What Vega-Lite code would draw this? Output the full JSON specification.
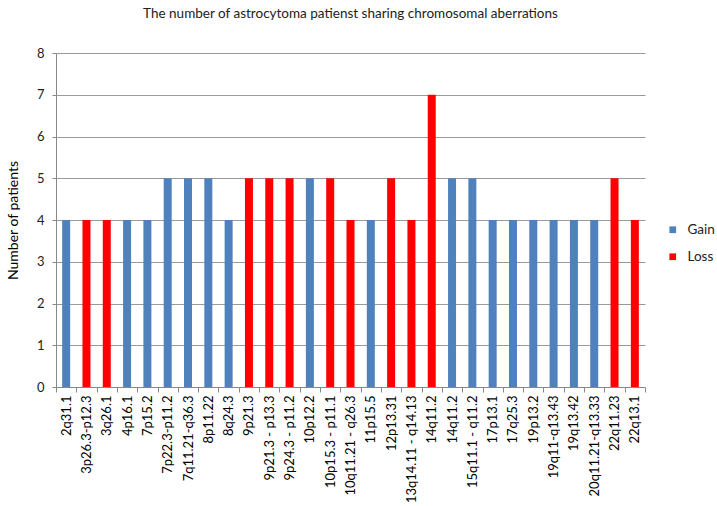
{
  "$schema": "https://vega.github.io/schema/vega-lite/v6.json",
  "width": 589,
  "height": 334,
  "padding": {"left": 6, "top": 6, "right": 5, "bottom": 3},
  "background": "white",
  "title": {
    "text": "The number of astrocytoma  patienst sharing chromosomal aberrations",
    "font": "Lato",
    "fontSize": 13.5,
    "fontWeight": "normal",
    "color": "#222222",
    "anchor": "middle",
    "offset": 27
  },
  "config": {
    "view": {"stroke": null},
    "font": "Lato"
  },
  "data": {
    "values": [
      {"region": "2q31.1", "type": "Gain", "patients": 4},
      {"region": "3p26.3-p12.3", "type": "Loss", "patients": 4},
      {"region": "3q26.1", "type": "Loss", "patients": 4},
      {"region": "4p16.1", "type": "Gain", "patients": 4},
      {"region": "7p15.2", "type": "Gain", "patients": 4},
      {"region": "7p22.3-p11.2", "type": "Gain", "patients": 5},
      {"region": "7q11.21-q36.3", "type": "Gain", "patients": 5},
      {"region": "8p11.22", "type": "Gain", "patients": 5},
      {"region": "8q24.3", "type": "Gain", "patients": 4},
      {"region": "9p21.3", "type": "Loss", "patients": 5},
      {"region": "9p21.3 - p13.3", "type": "Loss", "patients": 5},
      {"region": "9p24.3 - p11.2", "type": "Loss", "patients": 5},
      {"region": "10p12.2", "type": "Gain", "patients": 5},
      {"region": "10p15.3 - p11.1", "type": "Loss", "patients": 5},
      {"region": "10q11.21 - q26.3", "type": "Loss", "patients": 4},
      {"region": "11p15.5", "type": "Gain", "patients": 4},
      {"region": "12p13.31", "type": "Loss", "patients": 5},
      {"region": "13q14.11 - q14.13", "type": "Loss", "patients": 4},
      {"region": "14q11.2", "type": "Loss", "patients": 7},
      {"region": "14q11.2 ", "type": "Gain", "patients": 5},
      {"region": "15q11.1 - q11.2", "type": "Gain", "patients": 5},
      {"region": "17p13.1", "type": "Gain", "patients": 4},
      {"region": "17q25.3", "type": "Gain", "patients": 4},
      {"region": "19p13.2", "type": "Gain", "patients": 4},
      {"region": "19q11-q13.43", "type": "Gain", "patients": 4},
      {"region": "19q13.42", "type": "Gain", "patients": 4},
      {"region": "20q11.21-q13.33", "type": "Gain", "patients": 4},
      {"region": "22q11.23", "type": "Loss", "patients": 5},
      {"region": "22q13.1", "type": "Loss", "patients": 4}
    ]
  },
  "mark": {"type": "bar", "size": 8},
  "encoding": {
    "x": {
      "field": "region",
      "type": "nominal",
      "sort": null,
      "scale": {"paddingInner": 0, "paddingOuter": 0},
      "axis": {
        "title": null,
        "labelAngle": -90,
        "labelFont": "Lato",
        "labelFontSize": 13,
        "labelColor": "#000000",
        "tickBand": "extent",
        "tickColor": "#888888",
        "tickSize": 5,
        "domainColor": "#888888",
        "labelPadding": 3
      }
    },
    "y": {
      "field": "patients",
      "type": "quantitative",
      "scale": {"domain": [0, 8]},
      "axis": {
        "title": "Number of patients",
        "titleFont": "Lato",
        "titleFontSize": 14,
        "titleFontWeight": "normal",
        "titleColor": "#000000",
        "titlePadding": 16,
        "tickCount": 8,
        "labelFont": "Lato",
        "labelFontSize": 13,
        "labelColor": "#222222",
        "labelPadding": 8,
        "tickColor": "#888888",
        "tickSize": 4,
        "domainColor": "#888888",
        "gridColor": "#9a9a9a",
        "grid": true
      }
    },
    "color": {
      "field": "type",
      "type": "nominal",
      "scale": {"domain": ["Gain", "Loss"], "range": ["#4F81BD", "#FF0000"]},
      "legend": {
        "title": null,
        "symbolType": "square",
        "symbolSize": 45,
        "labelFont": "Lato",
        "labelFontSize": 13.5,
        "labelColor": "#222222",
        "labelOffset": 8,
        "rowPadding": 12,
        "orient": "none",
        "legendX": 610,
        "legendY": 170,
        "padding": 0
      }
    }
  }
}
